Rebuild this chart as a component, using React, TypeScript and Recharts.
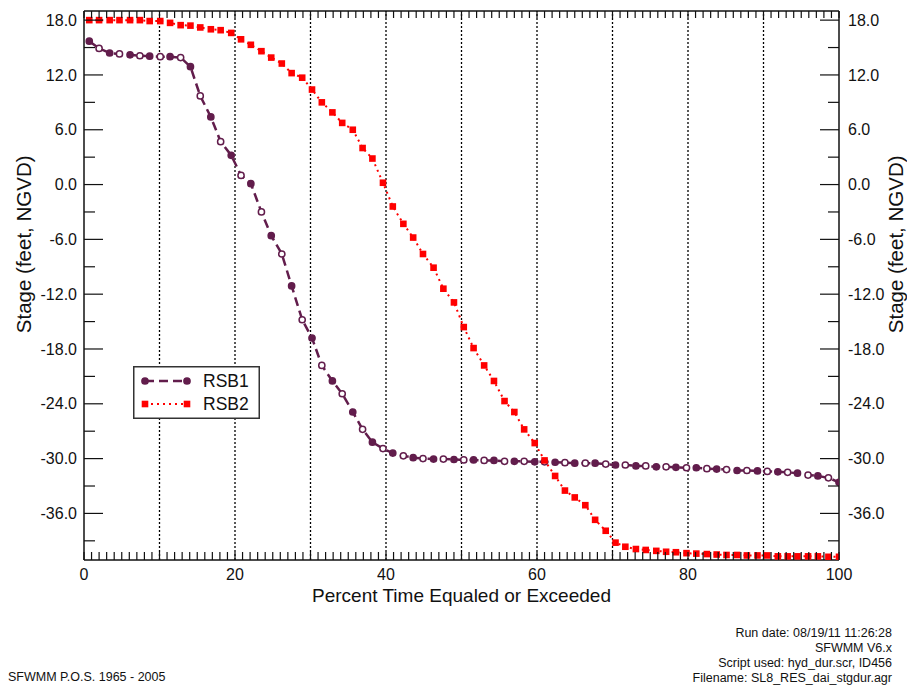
import { ComposedChart, Line, XAxis, YAxis, ReferenceLine, Legend, Label } from 'recharts';

// percent time equaled or exceeded (x), one entry per plotted point
const pct = [
  0.7, 2.0, 3.4, 4.7, 6.1, 7.4, 8.7, 10.1, 11.4, 12.8,
  14.1, 15.4, 16.8, 18.1, 19.5, 20.8, 22.1, 23.5, 24.8, 26.2,
  27.5, 28.9, 30.2, 31.5, 32.9, 34.2, 35.6, 36.9, 38.2, 39.6,
  40.9, 42.3, 43.6, 44.9, 46.3, 47.6, 49.0, 50.3, 51.6, 53.0,
  54.3, 55.7, 57.0, 58.3, 59.7, 61.0, 62.4, 63.7, 65.0, 66.4,
  67.7, 69.1, 70.4, 71.7, 73.1, 74.4, 75.8, 77.1, 78.4, 79.8,
  81.1, 82.5, 83.8, 85.1, 86.5, 87.8, 89.2, 90.5, 91.9, 93.2,
  94.5, 95.9, 97.2, 98.6, 100.0,
];

// stage, feet NGVD
const rsb1 = [
  15.7, 14.9, 14.4, 14.3, 14.2, 14.1, 14.05, 14.0, 14.0, 13.9,
  12.9, 9.7, 7.4, 4.7, 3.2, 1.0, 0.1, -3.0, -5.6, -7.6,
  -11.1, -14.8, -16.8, -19.8, -21.5, -22.9, -24.9, -26.8, -28.2, -28.9,
  -29.4, -29.7, -29.9, -30.0, -30.05, -30.05, -30.1, -30.15, -30.15, -30.2,
  -30.2, -30.3, -30.3, -30.3, -30.35, -30.35, -30.4, -30.45, -30.5, -30.5,
  -30.5, -30.6, -30.7, -30.7, -30.8, -30.8, -30.9, -30.9, -30.95, -31.0,
  -31.0, -31.1, -31.15, -31.2, -31.3, -31.3, -31.35, -31.4, -31.45, -31.5,
  -31.6, -31.8, -31.9, -32.1, -32.6,
];

const rsb2 = [
  18.0, 18.0, 18.0, 18.0, 18.0, 18.0, 17.9, 17.9, 17.7, 17.45,
  17.4, 17.2, 17.0, 16.9, 16.6, 15.9, 15.3, 14.6, 13.9, 13.25,
  12.2, 11.7, 10.4, 9.0, 7.9, 6.75, 6.0, 4.0, 2.85, 0.2,
  -2.4, -4.3, -5.8, -7.6, -9.1, -11.4, -12.9, -15.6, -17.9, -19.8,
  -21.5, -23.7, -24.9, -26.8, -28.3, -30.2, -31.9, -33.5, -34.25, -35.1,
  -36.7, -37.9, -39.2, -39.65, -39.9, -40.0, -40.1, -40.2, -40.25, -40.35,
  -40.4, -40.45, -40.5, -40.55, -40.55, -40.6, -40.6, -40.6, -40.7, -40.7,
  -40.7, -40.7, -40.7, -40.75, -40.75,
];

const xTicks = Array.from({ length: 101 }, (_, i) => i);
const xLabelTicks = [0, 20, 40, 60, 80, 100];
const gridX = [10, 20, 30, 40, 50, 60, 70, 80, 90];
const yTicks = [18, 15, 12, 9, 6, 3, 0, -3, -6, -9, -12, -15, -18, -21, -24, -27, -30, -33, -36, -39];
const yLabelTicks = [18, 12, 6, 0, -6, -12, -18, -24, -30, -36];

const rows = pct.map((p, i) => ({ pct: p, rsb1: rsb1[i], rsb2: rsb2[i] }));

const FONT = '"Liberation Sans", Arial, Helvetica, sans-serif';
const INK = '#111';
const PURPLE = '#621d4c';
const RED = '#ff0000';

function BottomTick({ x, y, payload }: any) {
  const v = payload.value;
  return (
    <g>
      <line x1={x} y1={y} x2={x} y2={y - 8} stroke={INK} strokeWidth={1.2} />
      {xLabelTicks.includes(v) && (
        <text x={x} y={y + 20} textAnchor="middle" fontSize={16} fill={INK} fontFamily={FONT}>
          {v}
        </text>
      )}
    </g>
  );
}

function TopTick({ x, y }: any) {
  return <line x1={x} y1={y} x2={x} y2={y + 7} stroke={INK} strokeWidth={1.2} />;
}

function SideTick({ x, y, payload, side }: any) {
  const v = payload.value;
  const major = yLabelTicks.includes(v);
  const len = major ? 19 : 11;
  const dir = side === 'left' ? 1 : -1;
  return (
    <g>
      <line x1={x} y1={y} x2={x + dir * len} y2={y} stroke={INK} strokeWidth={1.2} />
      {major && (
        <text
          x={side === 'left' ? x - 7 : x + 9}
          y={y}
          dy="0.35em"
          textAnchor={side === 'left' ? 'end' : 'start'}
          fontSize={16}
          fill={INK}
          fontFamily={FONT}
        >
          {v.toFixed(1)}
        </text>
      )}
    </g>
  );
}

function YTitle({ viewBox, side }: any) {
  const cx = side === 'left' ? viewBox.x - 0.5 : viewBox.x + viewBox.width - 3;
  const cy = viewBox.y + viewBox.height * 0.425;
  return (
    <text
      x={cx}
      y={cy}
      transform={`rotate(-90 ${cx} ${cy})`}
      textAnchor="middle"
      dominantBaseline="central"
      fontSize={20.5}
      fill={INK}
      fontFamily={FONT}
    >
      Stage (feet, NGVD)
    </text>
  );
}

function XTitle({ viewBox }: any) {
  return (
    <text
      x={viewBox.x + viewBox.width / 2}
      y={viewBox.y + 42}
      textAnchor="middle"
      fontSize={19}
      fill={INK}
      fontFamily={FONT}
    >
      Percent Time Equaled or Exceeded
    </text>
  );
}

function CircleDot({ cx, cy, index }: any) {
  return (
    <circle
      key={`c-${index}`}
      cx={cx}
      cy={cy}
      r={3.1}
      fill={index % 2 ? '#fff' : PURPLE}
      stroke={PURPLE}
      strokeWidth={1.5}
    />
  );
}

function SquareDot({ cx, cy, index }: any) {
  return <rect key={`s-${index}`} x={cx - 3.3} y={cy - 3.3} width={6.6} height={6.6} fill={RED} />;
}

function LegendBox() {
  return (
    <svg width={127} height={53} style={{ display: 'block' }}>
      <rect x={0.75} y={0.75} width={125.5} height={51.5} fill="#fff" stroke="#333" strokeWidth={1.5} />
      <line x1={12} y1={15} x2={54} y2={15} stroke={PURPLE} strokeWidth={2.5} strokeDasharray="9 5" />
      <circle cx={12} cy={15} r={3.1} fill={PURPLE} stroke={PURPLE} strokeWidth={1.5} />
      <circle cx={54} cy={15} r={3.1} fill={PURPLE} stroke={PURPLE} strokeWidth={1.5} />
      <text x={70} y={15} dy="0.36em" fontSize={17.5} fill={INK} fontFamily={FONT}>
        RSB1
      </text>
      <line x1={12} y1={38} x2={54} y2={38} stroke={RED} strokeWidth={2} strokeDasharray="2 4" />
      <rect x={8.7} y={34.7} width={6.6} height={6.6} fill={RED} />
      <rect x={50.7} y={34.7} width={6.6} height={6.6} fill={RED} />
      <text x={70} y={38} dy="0.36em" fontSize={17.5} fill={INK} fontFamily={FONT}>
        RSB2
      </text>
    </svg>
  );
}

const axisLine = { stroke: INK, strokeWidth: 1.5 };

export default function App() {
  return (
    <div
      style={{
        position: 'absolute',
        left: 0,
        top: 0,
        width: 907,
        height: 688,
        background: '#fff',
        fontFamily: FONT,
        color: INK,
      }}
    >
      <ComposedChart width={907} height={688} data={rows} margin={{ top: 10, right: 8, left: 24, bottom: 98 }}>
        <XAxis
          xAxisId="b"
          dataKey="pct"
          type="number"
          domain={[0, 100]}
          allowDataOverflow
          ticks={xTicks}
          interval={0}
          tickLine={false}
          tickSize={0}
          tickMargin={0}
          tick={(p: any) => <BottomTick {...p} />}
          axisLine={axisLine}
          height={30}
        >
          <Label content={(p: any) => <XTitle {...p} />} />
        </XAxis>
        <XAxis
          xAxisId="t"
          orientation="top"
          dataKey="pct"
          type="number"
          domain={[0, 100]}
          allowDataOverflow
          ticks={xTicks}
          interval={0}
          tickLine={false}
          tickSize={0}
          tickMargin={0}
          tick={(p: any) => <TopTick {...p} />}
          axisLine={axisLine}
          height={1}
        />
        <YAxis
          yAxisId="l"
          type="number"
          domain={[-41.1, 19]}
          allowDataOverflow
          ticks={yTicks}
          interval={0}
          tickLine={false}
          tickSize={0}
          tickMargin={0}
          tick={(p: any) => <SideTick {...p} side="left" />}
          axisLine={axisLine}
          width={60}
        >
          <Label content={(p: any) => <YTitle {...p} side="left" />} />
        </YAxis>
        <YAxis
          yAxisId="r"
          orientation="right"
          type="number"
          domain={[-41.1, 19]}
          allowDataOverflow
          ticks={yTicks}
          interval={0}
          tickLine={false}
          tickSize={0}
          tickMargin={0}
          tick={(p: any) => <SideTick {...p} side="right" />}
          axisLine={axisLine}
          width={60}
        >
          <Label content={(p: any) => <YTitle {...p} side="right" />} />
        </YAxis>
        {gridX.map((g) => (
          <ReferenceLine
            key={g}
            x={g}
            xAxisId="b"
            yAxisId="l"
            stroke="#000"
            strokeWidth={1.3}
            strokeDasharray="2 2"
          />
        ))}
        <Line
          xAxisId="b"
          yAxisId="l"
          type="linear"
          dataKey="rsb1"
          name="RSB1"
          stroke={PURPLE}
          strokeWidth={2.5}
          strokeDasharray="9 5"
          dot={(p: any) => <CircleDot {...p} />}
          activeDot={false}
          isAnimationActive={false}
        />
        <Line
          xAxisId="b"
          yAxisId="l"
          type="linear"
          dataKey="rsb2"
          name="RSB2"
          stroke={RED}
          strokeWidth={2}
          strokeDasharray="2 4"
          dot={(p: any) => <SquareDot {...p} />}
          activeDot={false}
          isAnimationActive={false}
        />
        <Legend
          layout="horizontal"
          verticalAlign="middle"
          align="center"
          wrapperStyle={{ left: 133, top: 366, width: 127, height: 53 }}
          content={() => <LegendBox />}
        />
      </ComposedChart>
      <div
        style={{
          position: 'absolute',
          right: 15,
          top: 626,
          textAlign: 'right',
          fontSize: 12.5,
          lineHeight: '15px',
          whiteSpace: 'nowrap',
        }}
      >
        <div>Run date: 08/19/11 11:26:28</div>
        <div>SFWMM V6.x</div>
        <div>Script used: hyd_dur.scr, ID456</div>
        <div>Filename: SL8_RES_dai_stgdur.agr</div>
      </div>
      <div style={{ position: 'absolute', left: 8, top: 670, fontSize: 12.5, lineHeight: '15px', whiteSpace: 'nowrap' }}>
        SFWMM P.O.S. 1965 - 2005
      </div>
    </div>
  );
}
